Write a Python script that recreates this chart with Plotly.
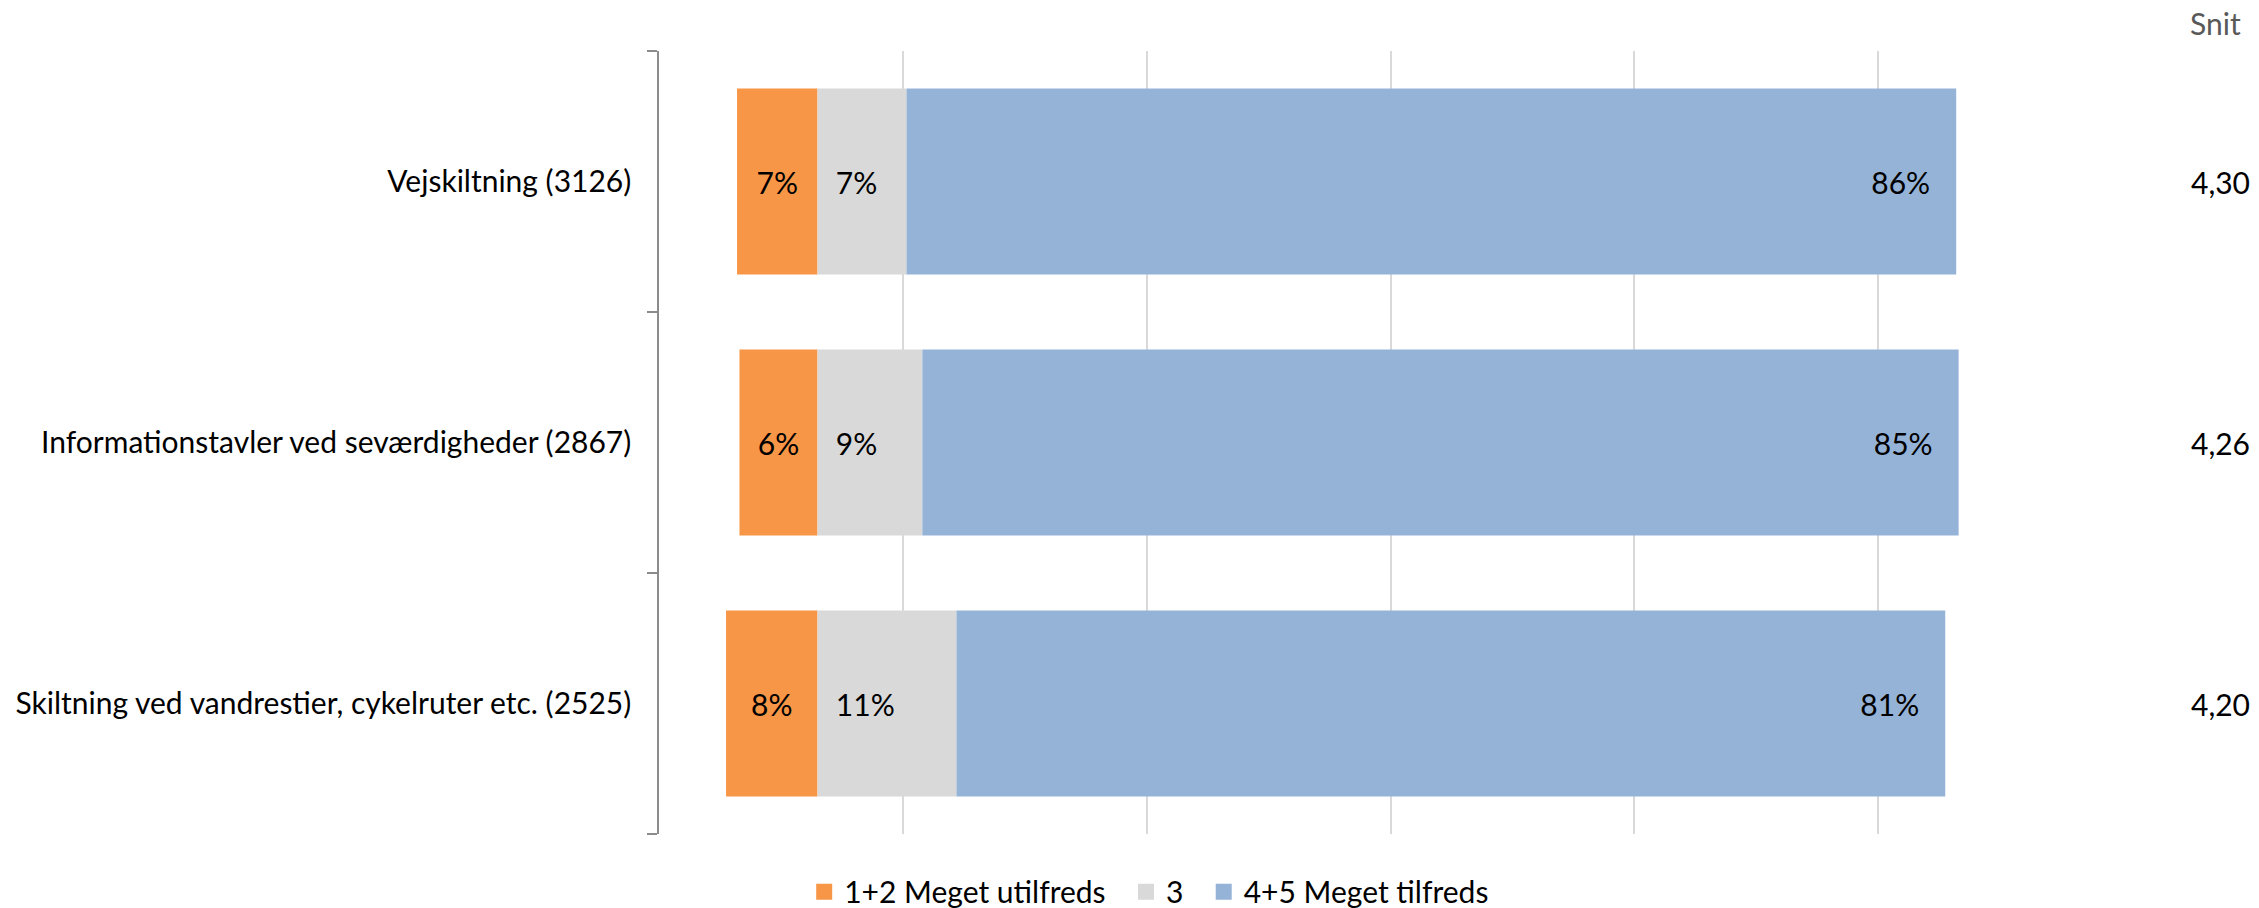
import plotly.graph_objects as go

# data (percent of answers)
categories = [
    'Vejskiltning (3126)',
    'Informationstavler ved seværdigheder (2867)',
    'Skiltning ved vandrestier, cykelruter etc. (2525)',
]
unhappy = [6.6, 6.4, 7.5]      # 1+2 Meget utilfreds
neutral = [7.3, 8.6, 11.4]     # 3
happy = [86.1, 85.0, 81.1]     # 4+5 Meget tilfreds
snit = ['4,30', '4,26', '4,20']

series_names = ['1+2 Meget utilfreds', '3', '4+5 Meget tilfreds']
colors = ['#F79646', '#D9D9D9', '#95B3D7']

FONT = 'Lato'
FS = 30
NB = '\u00a0'


def pct(vals):
    return [f'{round(v):d}%' for v in vals]


fig = go.Figure()

# orange part goes left of zero
fig.add_trace(go.Bar(
    y=categories, x=[-v for v in unhappy], orientation='h',
    marker=dict(color=colors[0], line=dict(width=0)),
    text=pct(unhappy), textposition='inside', insidetextanchor='middle',
    showlegend=False, hoverinfo='skip',
))
fig.add_trace(go.Bar(
    y=categories, x=neutral, orientation='h',
    marker=dict(color=colors[1], line=dict(width=0)),
    text=[NB * 2 + t for t in pct(neutral)], textposition='inside', insidetextanchor='start',
    showlegend=False, hoverinfo='skip',
))
fig.add_trace(go.Bar(
    y=categories, x=happy, orientation='h',
    marker=dict(color=colors[2], line=dict(width=0)),
    text=[t + NB * 3 for t in pct(happy)], textposition='inside', insidetextanchor='end',
    showlegend=False, hoverinfo='skip',
))
fig.update_traces(insidetextfont=dict(family=FONT, size=FS, color='black'),
                  constraintext='none', selector=dict(type='bar'))

# legend entries with bigger square swatches (padded names for Excel-like spacing)
legend_labels = [series_names[0] + NB * 2, series_names[1] + NB * 2, series_names[2]]
for name, c in zip(legend_labels, colors):
    fig.add_trace(go.Scatter(
        x=[None], y=[None], mode='markers', name=name,
        marker=dict(symbol='square', size=16, color=c),
    ))

# "Snit" column on the right
fig.add_annotation(text='Snit', xref='paper', yref='paper', x=1.0827, y=1.036,
                   xanchor='right', yanchor='middle', showarrow=False,
                   font=dict(family=FONT, size=FS, color='#595959'))
for cat, s in zip(categories, snit):
    fig.add_annotation(text=s, xref='paper', yref='y', x=1.0889, y=cat,
                       xanchor='right', yanchor='middle', showarrow=False,
                       font=dict(family=FONT, size=FS, color='black'))

fig.update_layout(
    width=2259, height=908,
    barmode='relative', bargap=0.287,
    plot_bgcolor='white', paper_bgcolor='white',
    font=dict(family=FONT, size=FS, color='black'),
    margin=dict(l=659, r=137, t=51, b=74),
    legend=dict(orientation='h', xref='container', yref='container',
                x=0.356, xanchor='left', y=0.018, yanchor='middle',
                itemsizing='trace', font=dict(family=FONT, size=FS, color='black'),
                bgcolor='rgba(0,0,0,0)'),
)
fig.update_xaxes(
    range=[-13, 107], tick0=-13, dtick=20,
    showgrid=True, gridcolor='#D9D9D9', gridwidth=1.5,
    zeroline=False, showticklabels=False, showline=False,
)
fig.update_yaxes(
    categoryorder='array', categoryarray=categories[::-1],
    showline=True, linecolor='#8C8C8C', linewidth=1.5,
    ticks='outside', tickson='boundaries', ticklen=10, tickcolor='#8C8C8C', tickwidth=1.5,
    ticklabelstandoff=20, showgrid=False,
)

# page has a default body margin; drop it so the figure fills the window
fig.write_html('out.html', config={'displayModeBar': False},
               post_script="document.body.style.margin='0';")
